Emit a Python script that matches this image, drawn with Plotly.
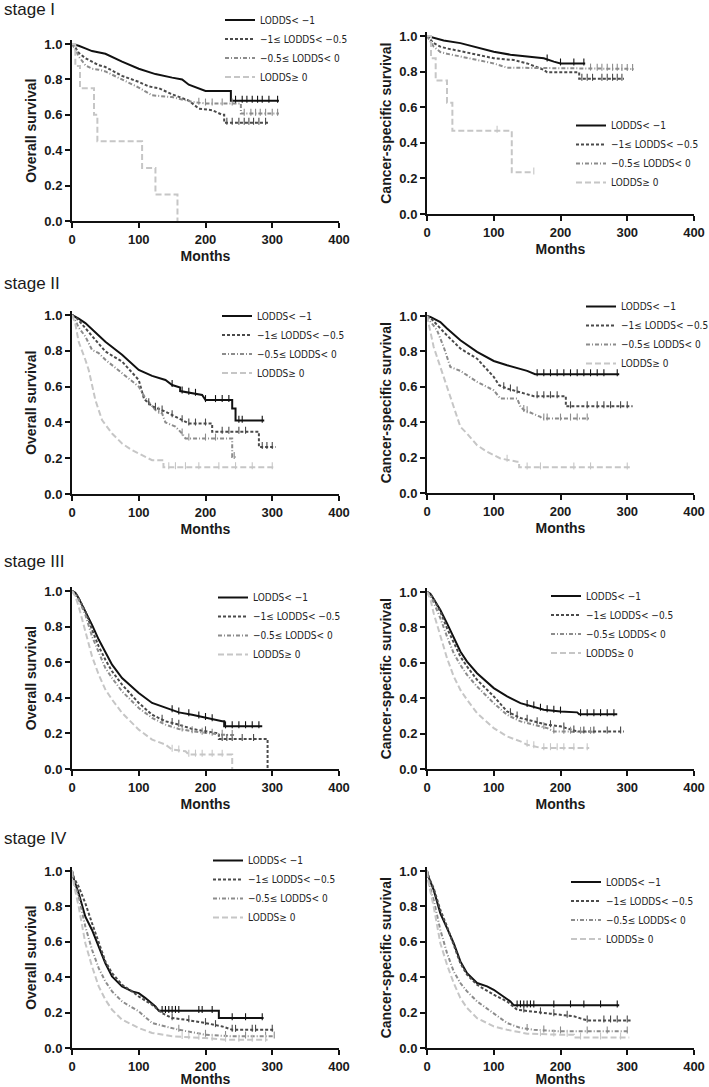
import numpy as np
import plotly.graph_objects as go

W, H = 709, 1087

MONTH_TICKS = [0, 100, 200, 300, 400]
SURV_TICKS = [0, 0.2, 0.4, 0.6, 0.8, 1.0]
SURV_TICK_TEXT = ["0.0", "0.2", "0.4", "0.6", "0.8", "1.0"]
GROUP_LABELS = ["LODDS< \u22121", "\u22121\u2264 LODDS< \u22120.5", "\u22120.5\u2264 LODDS< 0", "LODDS\u2265 0"]
STAGES = ["stage I", "stage II", "stage III", "stage IV"]
ENDPOINTS = ["Overall survival", "Cancer-specific survival"]

# ---------------- Stage I, overall survival ----------------
OS_I_times = [
    [0, 10, 20, 30, 50, 75, 100, 125, 150, 165, 175, 190, 200, 238, 238, 310],
    [0, 5, 10, 20, 30, 40, 50, 75, 100, 115, 130, 150, 175, 190, 210, 225, 228, 228, 295],
    [0, 5, 10, 20, 30, 40, 50, 75, 100, 120, 150, 180, 200, 253, 253, 310],
    [0, 5, 5, 12, 12, 33, 33, 38, 38, 105, 105, 125, 125, 158, 158],
]
OS_I_surv = [
    [1.0, 0.99, 0.975, 0.96, 0.945, 0.90, 0.86, 0.83, 0.81, 0.80, 0.77, 0.75, 0.735, 0.735, 0.68, 0.68],
    [1.0, 0.98, 0.95, 0.92, 0.90, 0.88, 0.87, 0.82, 0.786, 0.76, 0.75, 0.716, 0.68, 0.635, 0.626, 0.60, 0.60, 0.555, 0.555],
    [1.0, 0.97, 0.93, 0.88, 0.86, 0.855, 0.845, 0.80, 0.754, 0.71, 0.70, 0.673, 0.664, 0.664, 0.607, 0.607],
    [1.0, 1.0, 0.875, 0.875, 0.75, 0.75, 0.60, 0.60, 0.45, 0.45, 0.30, 0.30, 0.15, 0.15, 0.0],
]
OS_I_censor = [
    [245, 255, 262, 270, 278, 285, 295, 308],
    [232, 240, 250, 258, 265, 272, 280, 290],
    [190, 200, 210, 225, 240, 258, 268, 275, 282, 290, 300, 308],
    [],
]

# ---------------- Stage I, cancer-specific survival ----------------
CSS_I_times = [
    [0, 10, 25, 50, 75, 100, 125, 150, 175, 190, 200, 237],
    [0, 5, 10, 20, 30, 50, 75, 100, 130, 150, 175, 180, 228, 228, 295],
    [0, 5, 10, 20, 30, 50, 75, 100, 120, 310],
    [0, 6, 6, 13, 13, 30, 30, 38, 38, 127, 127, 160],
]
CSS_I_surv = [
    [1.0, 0.99, 0.975, 0.96, 0.935, 0.912, 0.895, 0.884, 0.875, 0.856, 0.846, 0.846],
    [1.0, 0.98, 0.96, 0.94, 0.93, 0.915, 0.895, 0.875, 0.865, 0.846, 0.81, 0.796, 0.796, 0.76, 0.76],
    [1.0, 0.97, 0.94, 0.91, 0.90, 0.885, 0.865, 0.846, 0.822, 0.815],
    [1.0, 1.0, 0.875, 0.875, 0.75, 0.75, 0.625, 0.625, 0.468, 0.468, 0.234, 0.234],
]
CSS_I_censor = [
    [180, 200, 220, 235],
    [232, 240, 248, 262, 270, 278, 285, 292],
    [245, 255, 262, 270, 278, 285, 292, 300, 308],
    [105, 160],
]

# ---------------- Stage II, overall survival ----------------
OS_II_times = [
    [0, 5, 10, 20, 30, 50, 75, 100, 120, 140, 150, 162, 162, 185, 195, 200, 240, 240, 245, 245, 288],
    [0, 5, 10, 20, 30, 50, 75, 100, 108, 120, 140, 160, 175, 210, 210, 280, 280, 305],
    [0, 5, 10, 20, 30, 40, 50, 75, 100, 110, 125, 135, 140, 155, 165, 170, 240, 240, 245],
    [0, 5, 10, 15, 20, 25, 35, 45, 60, 75, 90, 110, 120, 137, 137, 305],
]
OS_II_surv = [
    [1.0, 0.99, 0.98, 0.955, 0.92, 0.85, 0.778, 0.693, 0.66, 0.637, 0.609, 0.595, 0.575, 0.56, 0.553, 0.525, 0.525, 0.478, 0.478, 0.41, 0.41],
    [1.0, 0.99, 0.97, 0.927, 0.88, 0.796, 0.74, 0.637, 0.53, 0.49, 0.46, 0.422, 0.394, 0.394, 0.348, 0.348, 0.263, 0.263],
    [1.0, 0.97, 0.93, 0.88, 0.805, 0.787, 0.75, 0.675, 0.60, 0.535, 0.469, 0.45, 0.40, 0.376, 0.338, 0.31, 0.31, 0.207, 0.207],
    [1.0, 0.95, 0.85, 0.805, 0.75, 0.693, 0.525, 0.413, 0.338, 0.282, 0.245, 0.207, 0.189, 0.189, 0.15, 0.15],
]
OS_II_censor = [
    [150, 165, 175, 185, 200, 215, 225, 235, 250, 255, 285],
    [115, 125, 135, 150, 165, 175, 185, 200, 225, 235, 250, 260, 285, 292, 300],
    [130, 165, 175, 200, 215, 243],
    [145, 155, 170, 190, 220, 245, 270, 300],
]

# ---------------- Stage II, cancer-specific survival ----------------
CSS_II_times = [
    [0, 5, 10, 20, 30, 50, 75, 100, 120, 140, 150, 162, 288],
    [0, 5, 10, 20, 30, 50, 75, 100, 108, 120, 150, 160, 208, 208, 308],
    [0, 5, 15, 25, 35, 50, 75, 100, 110, 135, 140, 145, 170, 172, 245],
    [0, 5, 10, 20, 30, 40, 50, 60, 75, 90, 110, 135, 138, 138, 305],
]
CSS_II_surv = [
    [1.0, 0.995, 0.985, 0.966, 0.93, 0.863, 0.797, 0.746, 0.722, 0.703, 0.69, 0.671, 0.671],
    [1.0, 0.99, 0.97, 0.929, 0.89, 0.816, 0.759, 0.656, 0.609, 0.59, 0.558, 0.547, 0.547, 0.49, 0.49],
    [1.0, 0.97, 0.92, 0.825, 0.712, 0.69, 0.628, 0.58, 0.534, 0.534, 0.487, 0.47, 0.43, 0.421, 0.421],
    [1.0, 0.92, 0.825, 0.712, 0.60, 0.477, 0.374, 0.336, 0.27, 0.233, 0.195, 0.177, 0.177, 0.145, 0.145],
]
CSS_II_censor = [
    [165, 175, 185, 195, 205, 215, 225, 235, 245, 255, 265, 285],
    [115, 125, 135, 165, 175, 185, 195, 215, 240, 255, 265, 275, 290, 300],
    [145, 150, 175, 180, 200, 215, 225, 240],
    [120, 150, 170, 220, 245, 300],
]

# ---------------- Stage III, overall survival ----------------
OS_III_times = [
    [0, 5, 10, 20, 30, 40, 50, 60, 75, 100, 120, 140, 160, 180, 200, 225, 228, 228, 285],
    [0, 5, 10, 20, 30, 40, 50, 60, 75, 100, 120, 140, 160, 180, 200, 220, 220, 293, 293],
    [0, 5, 10, 20, 30, 40, 50, 60, 75, 100, 120, 140, 160, 180, 200, 225, 245],
    [0, 5, 10, 20, 30, 40, 50, 60, 75, 100, 120, 140, 150, 170, 175, 240, 240],
]
OS_III_surv = [
    [1.0, 0.99, 0.96, 0.886, 0.81, 0.727, 0.652, 0.586, 0.511, 0.427, 0.371, 0.343, 0.318, 0.305, 0.287, 0.268, 0.268, 0.24, 0.24],
    [1.0, 0.99, 0.96, 0.886, 0.783, 0.689, 0.614, 0.549, 0.474, 0.371, 0.305, 0.268, 0.249, 0.225, 0.212, 0.20, 0.169, 0.169, 0.0],
    [1.0, 0.98, 0.95, 0.867, 0.745, 0.652, 0.567, 0.511, 0.436, 0.343, 0.287, 0.249, 0.225, 0.212, 0.202, 0.193, 0.19],
    [1.0, 0.97, 0.914, 0.773, 0.633, 0.53, 0.446, 0.39, 0.315, 0.221, 0.165, 0.137, 0.109, 0.10, 0.081, 0.081, 0.0],
]
OS_III_censor = [
    [150, 160, 175, 190, 200, 210, 230, 240, 250, 260, 270, 280],
    [135, 150, 160, 200, 225, 232, 240, 255, 272],
    [165, 180, 195, 210, 225, 240],
    [150, 160, 175, 185, 195, 210, 225],
]

# ---------------- Stage III, cancer-specific survival ----------------
CSS_III_times = [
    [0, 5, 10, 20, 30, 40, 50, 60, 75, 100, 120, 140, 160, 175, 200, 225, 228, 285],
    [0, 5, 10, 20, 30, 40, 50, 60, 75, 100, 120, 140, 160, 180, 200, 220, 225, 295],
    [0, 5, 10, 20, 30, 40, 50, 60, 75, 100, 120, 140, 160, 180, 190, 250],
    [0, 5, 10, 20, 30, 40, 50, 60, 75, 100, 120, 140, 150, 172, 243],
]
CSS_III_surv = [
    [1.0, 0.99, 0.96, 0.898, 0.823, 0.739, 0.664, 0.607, 0.541, 0.457, 0.41, 0.372, 0.353, 0.335, 0.325, 0.32, 0.31, 0.31],
    [1.0, 0.99, 0.96, 0.889, 0.795, 0.711, 0.635, 0.579, 0.504, 0.41, 0.325, 0.288, 0.269, 0.25, 0.241, 0.218, 0.212, 0.212],
    [1.0, 0.98, 0.94, 0.852, 0.748, 0.654, 0.588, 0.532, 0.466, 0.372, 0.306, 0.269, 0.25, 0.231, 0.212, 0.21],
    [1.0, 0.96, 0.88, 0.748, 0.626, 0.523, 0.447, 0.391, 0.316, 0.231, 0.184, 0.156, 0.137, 0.118, 0.118],
]
CSS_III_censor = [
    [150, 160, 170, 180, 190, 200, 230, 240, 250, 260, 270, 280],
    [125, 135, 150, 165, 185, 205, 220, 235, 250, 270, 290],
    [175, 190, 205, 215, 230, 245],
    [150, 160, 175, 185, 195, 205, 220, 240],
]

# ---------------- Stage IV, overall survival ----------------
OS_IV_times = [
    [0, 3, 10, 20, 30, 40, 50, 60, 75, 90, 100, 110, 125, 130, 220, 220, 287],
    [0, 3, 10, 20, 30, 40, 50, 60, 75, 90, 100, 120, 135, 150, 170, 200, 225, 240, 303],
    [0, 3, 10, 20, 30, 40, 50, 60, 75, 100, 120, 140, 160, 200, 240, 303],
    [0, 3, 10, 20, 30, 40, 50, 60, 75, 100, 120, 150, 200, 230, 293],
]
OS_IV_surv = [
    [1.0, 0.95, 0.874, 0.742, 0.667, 0.573, 0.479, 0.404, 0.348, 0.32, 0.31, 0.282, 0.235, 0.21, 0.21, 0.169, 0.169],
    [1.0, 0.96, 0.912, 0.818, 0.705, 0.592, 0.489, 0.423, 0.357, 0.32, 0.291, 0.244, 0.197, 0.169, 0.16, 0.141, 0.122, 0.103, 0.103],
    [1.0, 0.94, 0.855, 0.686, 0.555, 0.451, 0.376, 0.32, 0.263, 0.207, 0.141, 0.122, 0.103, 0.075, 0.066, 0.066],
    [1.0, 0.92, 0.799, 0.592, 0.461, 0.348, 0.273, 0.216, 0.16, 0.113, 0.085, 0.066, 0.056, 0.047, 0.047],
]
OS_IV_censor = [
    [135, 140, 145, 150, 155, 160, 190, 195, 210, 240, 260, 285],
    [150, 175, 200, 215, 240, 245, 270, 275, 300],
    [160, 200, 230, 260, 290, 303],
    [165, 175, 190, 210, 230, 250, 270, 290],
]

# ---------------- Stage IV, cancer-specific survival ----------------
CSS_IV_times = [
    [0, 3, 10, 20, 30, 40, 50, 60, 75, 90, 100, 110, 125, 130, 288],
    [0, 3, 10, 20, 30, 40, 50, 60, 75, 100, 120, 135, 160, 185, 220, 240, 305],
    [0, 3, 10, 20, 30, 40, 50, 60, 75, 100, 120, 140, 160, 200, 303],
    [0, 3, 10, 20, 30, 40, 50, 60, 75, 100, 120, 150, 200, 220, 220, 303],
]
CSS_IV_surv = [
    [1.0, 0.96, 0.893, 0.761, 0.677, 0.592, 0.489, 0.423, 0.367, 0.348, 0.329, 0.301, 0.263, 0.241, 0.241],
    [1.0, 0.96, 0.902, 0.78, 0.686, 0.583, 0.479, 0.414, 0.357, 0.301, 0.263, 0.216, 0.207, 0.194, 0.179, 0.156, 0.156],
    [1.0, 0.93, 0.836, 0.667, 0.536, 0.432, 0.367, 0.32, 0.263, 0.197, 0.141, 0.113, 0.103, 0.094, 0.094],
    [1.0, 0.92, 0.799, 0.592, 0.47, 0.367, 0.282, 0.226, 0.169, 0.122, 0.103, 0.081, 0.075, 0.075, 0.06, 0.06],
]
CSS_IV_censor = [
    [135, 140, 145, 150, 155, 160, 190, 215, 235, 260, 285],
    [145, 170, 190, 210, 240, 265, 275, 285, 300],
    [150, 175, 200, 240, 270, 300],
    [170, 190, 210, 230, 260, 290],
]

PANELS = [
    (OS_I_times, OS_I_surv, OS_I_censor),
    (CSS_I_times, CSS_I_surv, CSS_I_censor),
    (OS_II_times, OS_II_surv, OS_II_censor),
    (CSS_II_times, CSS_II_surv, CSS_II_censor),
    (OS_III_times, OS_III_surv, OS_III_censor),
    (CSS_III_times, CSS_III_surv, CSS_III_censor),
    (OS_IV_times, OS_IV_surv, OS_IV_censor),
    (CSS_IV_times, CSS_IV_surv, CSS_IV_censor),
]

# ---------------- styling / layout (pixels) ----------------
COLORS = ["#111111", "#4a4a4a", "#8c8c8c", "#c6c6c6"]
DASHES = ["solid", "3px,2px", "4px,2px,1px,2px", "6px,3px"]

X_PX = [(72, 339), (427, 694)]
Y_PX = [(44, 221), (36, 214), (315, 494), (316, 493), (591, 769), (592, 769), (871, 1048), (871, 1048)]
Y_TOP = 1.02
LEGEND_PX = [(220, 5.5), (571, 111), (217, 301.5), (581, 292), (213, 583), (546, 581.5), (208, 846), (566, 867.5)]
STAGE_Y_PX = [10, 284, 561, 838]

FONT = "Liberation Sans, Arial, Helvetica, sans-serif"
NARROW = "Liberation Sans Narrow, Arial Narrow, DejaVu Sans Condensed, sans-serif"

fig = go.Figure()

for p, (times, survs, censors) in enumerate(PANELS):
    k = p + 1
    xa = "x" if k == 1 else f"x{k}"
    ya = "y" if k == 1 else f"y{k}"
    lg = "legend" if k == 1 else f"legend{k}"
    for j in range(4):
        fig.add_trace(go.Scatter(
            x=times[j], y=survs[j], mode="lines", name=GROUP_LABELS[j],
            line=dict(color=COLORS[j], width=2, dash=DASHES[j]),
            xaxis=xa, yaxis=ya, legend=lg, showlegend=True,
        ))
    for j in range(4):
        if censors[j]:
            cy = np.interp(censors[j], times[j], survs[j])
            fig.add_trace(go.Scatter(
                x=censors[j], y=cy + 0.008, mode="markers", showlegend=False,
                marker=dict(symbol="line-ns", size=5, color=COLORS[j],
                            line=dict(color=COLORS[j], width=1.1)),
                xaxis=xa, yaxis=ya, hoverinfo="skip", cliponaxis=False,
            ))

layout = dict(
    width=W, height=H, margin=dict(l=0, r=0, t=0, b=0, autoexpand=False),
    paper_bgcolor="white", plot_bgcolor="white",
    font=dict(family=FONT, color="#1a1a1a"),
)

axis_common = dict(
    showgrid=False, zeroline=False, showline=True, linecolor="#111111", linewidth=2,
    ticks="outside", ticklen=5, tickwidth=2, tickcolor="#111111",
    tickfont=dict(family=FONT, size=13, color="#1a1a1a", weight="bold"),
    automargin=False,
)

for p in range(8):
    k = p + 1
    col = p % 2
    x0, x1 = X_PX[col]
    ytop, ybot = Y_PX[p]
    ytop_eff = ybot - Y_TOP * (ybot - ytop)
    xkey = "xaxis" if k == 1 else f"xaxis{k}"
    ykey = "yaxis" if k == 1 else f"yaxis{k}"
    xanchor = "y" if k == 1 else f"y{k}"
    yanchor = "x" if k == 1 else f"x{k}"
    standoff = 6 if p < 6 else 3
    layout[xkey] = dict(
        axis_common, domain=[x0 / W, x1 / W], anchor=xanchor, range=[0, 400],
        tickvals=MONTH_TICKS,
        title=dict(text="Months", font=dict(family=FONT, size=14, weight="bold", color="#1a1a1a"), standoff=standoff),
    )
    layout[ykey] = dict(
        axis_common, domain=[1 - ybot / H, 1 - ytop_eff / H], anchor=yanchor, range=[0, Y_TOP],
        tickvals=SURV_TICKS, ticktext=SURV_TICK_TEXT,
        title=dict(text=ENDPOINTS[col], font=dict(family=FONT, size=14, weight="bold", color="#1a1a1a"), standoff=4),
    )
    lx, ly = LEGEND_PX[p]
    lkey = "legend" if k == 1 else f"legend{k}"
    layout[lkey] = dict(
        x=lx / W, y=1 - ly / H, xanchor="left", yanchor="top",
        bgcolor="rgba(0,0,0,0)", borderwidth=0, tracegroupgap=0,
        font=dict(family=NARROW, size=10, color="#222222"),
        itemwidth=30,
    )

fig.update_layout(**layout)

for s, yc in zip(STAGES, STAGE_Y_PX):
    fig.add_annotation(
        text=s, xref="paper", yref="paper", x=2 / W, y=1 - yc / H,
        xanchor="left", yanchor="middle", showarrow=False,
        font=dict(family=FONT, size=17, color="#1a1a1a"),
    )

fig.write_html(
    "out.html",
    config={"displayModeBar": False},
    post_script="document.body.style.margin='0px';document.body.style.overflow='hidden';",
)
